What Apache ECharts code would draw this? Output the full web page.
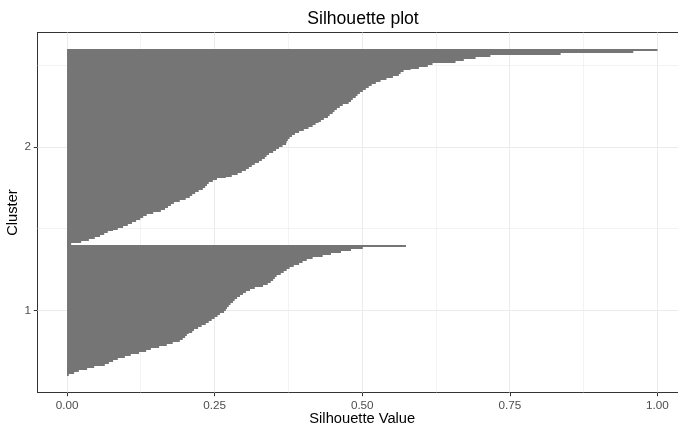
<!DOCTYPE html>
<html>
<head>
<meta charset="utf-8">
<script src="https://cdn.jsdelivr.net/npm/echarts@6/dist/echarts.min.js"></script>
<style>html,body{margin:0;padding:0;background:#fff}#c{width:678px;height:430px}</style>
</head>
<body>
<div id="c"></div>
<script>
// Silhouette values, sorted ascending (bottom to top within each cluster)
const cluster1Values = [0.003,0.012,0.020,0.034,0.046,0.064,0.071,0.078,0.086,0.098,
0.108,0.122,0.134,0.142,0.156,0.169,0.179,0.191,0.196,0.200,
0.203,0.206,0.212,0.215,0.222,0.228,0.235,0.240,0.245,0.250,
0.255,0.259,0.266,0.269,0.271,0.274,0.277,0.281,0.284,0.288,
0.293,0.298,0.303,0.310,0.318,0.332,0.340,0.345,0.349,0.352,
0.355,0.362,0.367,0.372,0.377,0.384,0.393,0.399,0.406,0.416,
0.433,0.447,0.464,0.481,0.501,0.574];
const cluster2Values = [0.007,0.024,0.037,0.047,0.056,0.063,0.069,0.078,0.086,0.095,
0.103,0.110,0.117,0.124,0.129,0.135,0.146,0.159,0.166,0.171,
0.176,0.181,0.191,0.201,0.208,0.212,0.217,0.223,0.230,0.234,
0.237,0.240,0.247,0.254,0.269,0.279,0.289,0.296,0.303,0.308,
0.313,0.318,0.325,0.330,0.335,0.338,0.342,0.349,0.354,0.359,
0.365,0.371,0.372,0.374,0.377,0.381,0.386,0.393,0.401,0.409,
0.416,0.421,0.426,0.430,0.435,0.442,0.445,0.450,0.453,0.457,
0.462,0.467,0.477,0.481,0.484,0.489,0.492,0.496,0.501,0.506,
0.511,0.516,0.523,0.531,0.541,0.552,0.562,0.565,0.570,0.582,
0.596,0.611,0.619,0.658,0.672,0.692,0.717,0.836,0.959,1.000];
const clusterLabels = ['1', '2'];
const xTickValues = [0, 0.25, 0.5, 0.75, 1];
const yTickValues = [1, 2];
const xMinorGrid = [0.125, 0.375, 0.625, 0.875];
const yMinorGrid = [1.5, 2.5];

// vertical extent of each cluster on the continuous y axis
const clusterSpans = [[0.6, 1.4], [1.4, 2.6]];
const clusters = [cluster1Values, cluster2Values];

const barData = [];
clusters.forEach((vals, ci) => {
  const [lo, hi] = clusterSpans[ci];
  const h = (hi - lo) / vals.length;
  vals.forEach((v, i) => barData.push([v, lo + i * h, lo + (i + 1) * h]));
});

// grid line records: [axis (0 = x, 1 = y), value, major(1)/minor(0)]
const gridData = [];
xTickValues.forEach(v => gridData.push([0, v, 1]));
xMinorGrid.forEach(v => gridData.push([0, v, 0]));
yTickValues.forEach(v => gridData.push([1, v, 1]));
yMinorGrid.forEach(v => gridData.push([1, v, 0]));

const FONT = '"Liberation Sans", Arial, Helvetica, sans-serif';
const chart = echarts.init(document.getElementById('c'), null, {renderer: 'canvas'});

const X_MIN = -0.05, X_MAX = 1.05, Y_MIN = 0.5, Y_MAX = 2.7;

chart.setOption({
  animation: false,
  backgroundColor: '#ffffff',
  textStyle: {fontFamily: FONT},
  title: {
    text: 'Silhouette plot', left: 358, top: 5, textAlign: 'center',
    textStyle: {fontFamily: FONT, fontSize: 17.6, fontWeight: 'normal', color: '#000'}
  },
  grid: {left: 37.5, right: -9, top: 32.5, bottom: 37.5, containLabel: false, outerBoundsMode: 'none'},
  xAxis: [{
    type: 'value', min: X_MIN, max: X_MAX,
    name: 'Silhouette Value', nameLocation: 'middle', nameGap: 19, nameMoveOverlap: false,
    nameTextStyle: {fontFamily: FONT, fontSize: 14.7, color: '#000'},
    axisLine: {show: true, onZero: false, lineStyle: {color: '#333333', width: 1}},
    axisTick: {show: true, length: 3.7, lineStyle: {color: '#333333'}, customValues: xTickValues},
    axisLabel: {show: true, customValues: xTickValues, margin: 7.5, fontFamily: FONT, fontSize: 11.7, color: '#4d4d4d',
      formatter: v => v.toFixed(2)},
    splitLine: {show: false}
  }, {
    type: 'value', min: X_MIN, max: X_MAX, position: 'top',
    axisLine: {show: true, onZero: false, lineStyle: {color: '#333333', width: 1}},
    axisTick: {show: false}, axisLabel: {show: false}, splitLine: {show: false}
  }],
  yAxis: {
    type: 'value', min: Y_MIN, max: Y_MAX,
    name: 'Cluster', nameLocation: 'middle', nameGap: 17, nameRotate: 90, nameMoveOverlap: false,
    nameTextStyle: {fontFamily: FONT, fontSize: 14.7, color: '#000'},
    axisLine: {show: true, onZero: false, lineStyle: {color: '#333333', width: 1}},
    axisTick: {show: true, length: 3.7, lineStyle: {color: '#333333'}, customValues: yTickValues},
    axisLabel: {show: true, customValues: yTickValues, margin: 6.5, fontFamily: FONT, fontSize: 11.7, color: '#4d4d4d',
      formatter: v => clusterLabels[Math.round(v) - 1]},
    splitLine: {show: false}
  },
  series: [{
    type: 'custom', z: 1, silent: true,
    data: gridData,
    encode: {x: -1, y: -1},
    renderItem: function (params, api) {
      const axis = api.value(0), v = api.value(1), major = api.value(2);
      let p0, p1;
      if (axis === 0) { p0 = api.coord([v, Y_MIN]); p1 = api.coord([v, Y_MAX]); }
      else { p0 = api.coord([X_MIN, v]); p1 = api.coord([X_MAX, v]); }
      const w = major ? 1 : 0.6;
      const snap = c => Math.round(c - 0.5) + 0.5;
      if (axis === 0) { p0[0] = p1[0] = snap(p0[0]); } else { p0[1] = p1[1] = snap(p0[1]); }
      return {
        type: 'line',
        shape: {x1: p0[0], y1: p0[1], x2: p1[0], y2: p1[1]},
        style: {stroke: '#ebebeb', lineWidth: w}
      };
    }
  }, {
    type: 'custom', z: 5, silent: true,
    encode: {x: 0, y: [1, 2]},
    data: barData,
    renderItem: function (params, api) {
      const a = api.coord([0, api.value(1)]);
      const b = api.coord([api.value(0), api.value(2)]);
      const top = Math.round(b[1]);
      const bot = Math.round(a[1]);
      return {
        type: 'rect',
        shape: {x: a[0], y: top, width: b[0] - a[0], height: Math.max(1, bot - top)},
        style: {fill: '#757575'}
      };
    }
  }]
});
</script>
</body>
</html>
